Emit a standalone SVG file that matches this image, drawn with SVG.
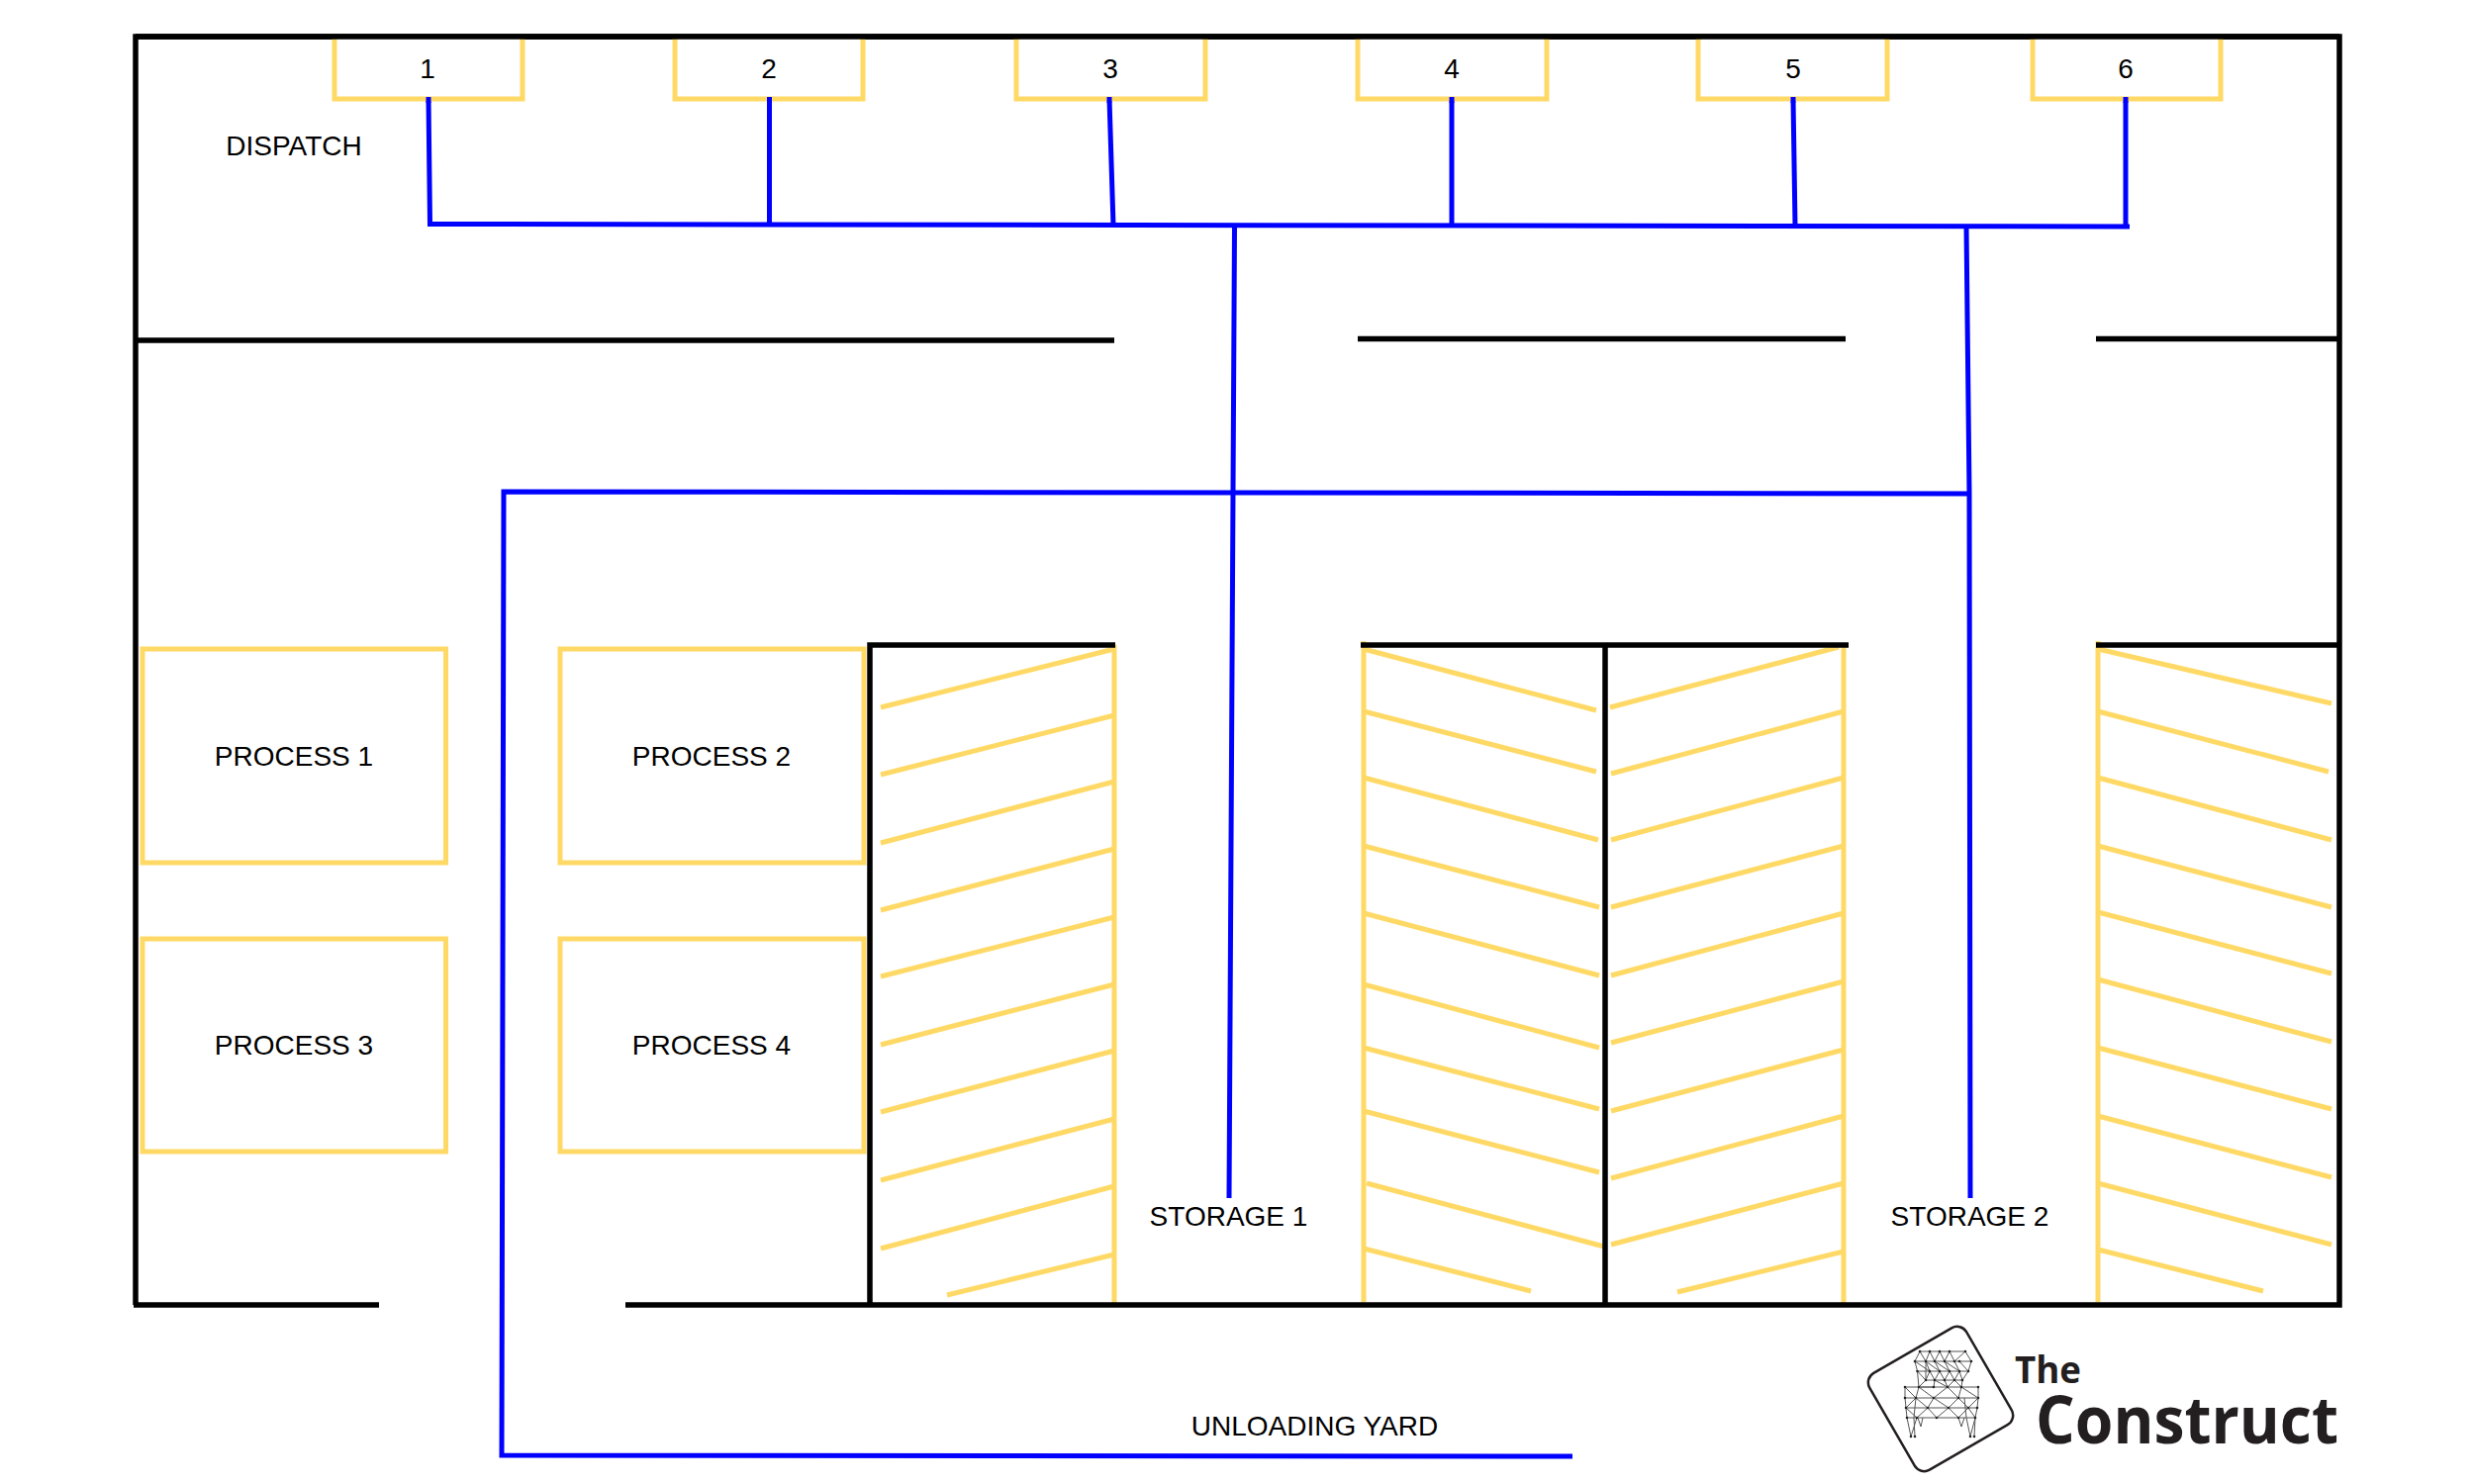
<svg xmlns="http://www.w3.org/2000/svg" width="2500" height="1500" viewBox="0 0 2500 1500">
<style>
.wall{fill:none;stroke:#000;stroke-width:5.500;stroke-linecap:butt;stroke-linejoin:miter}
.bay{fill:none;stroke:#ffd966;stroke-width:5}
.box{fill:#fff;stroke:#ffd966;stroke-width:5;stroke-linejoin:miter}
.route{fill:none;stroke:#0000ff;stroke-width:5;stroke-linejoin:miter}
text{font-family:"Liberation Sans",Arial,sans-serif;font-size:28px;fill:#000;text-anchor:middle}
.logo{font-family:"Open Sans","Noto Sans",sans-serif;font-weight:700;fill:#231f20;text-anchor:start}
.mesh{fill:none;stroke:#555;stroke-width:1}
.node{fill:none;stroke:#222;stroke-width:2.600;stroke-linecap:round}
</style>
<rect width="2500" height="1500" fill="#fff"/>
<g id="storage-bays">
<path class="bay" d="M1126 652V1319M1378 648V1316M1863 652V1319M2120 648V1316"/>
<path class="bay" d="M890 715L1126 656M890 783L1126 723M890 852L1126 790M890 920L1126 858M890 987L1126 927M890 1056L1126 995M890 1124L1126 1062M890 1193L1126 1131M890 1262L1126 1199M957 1309L1126 1268"/>
<path class="bay" d="M1378 656L1613 718M1378 719L1613 780M1378 786L1615 849M1378 855L1616 917M1378 923L1616 986M1378 995L1616 1059M1378 1059L1616 1121M1378 1123L1616 1185M1381 1196L1621 1260M1378 1262L1547 1305"/>
<path class="bay" d="M1627 715L1858 654M1628 782L1863 719M1628 849L1863 786M1628 917L1863 855M1628 986L1863 923M1628 1054L1863 992M1628 1123L1863 1061M1628 1191L1863 1128M1628 1258L1863 1196M1695 1306L1863 1265"/>
<path class="bay" d="M2120 656L2356 711M2120 719L2353 780M2120 786L2356 849M2120 855L2356 917M2120 922L2356 984M2120 990L2356 1053M2120 1059L2356 1121M2120 1128L2356 1190M2120 1196L2356 1258M2120 1263L2287 1305"/>
</g>
<g id="walls">
<path class="wall" d="M137 1319V37H2364V1319H632M137 1319H383M135 1319H383"/>
<path class="wall" d="M137 344H1126M1372 342.500H1865M2118 342.500H2364"/>
<path class="wall" d="M879 1319V652H1127M1375 652H1868M1622 652V1319M2118 652H2364"/>
</g>
<g id="connectors">
<path class="route" d="M433 100L434.500 226.500L2152 229"/>
<path class="route" d="M777.500 100V227M1121 100L1125 228M1467 100V228M1812 100L1814 229M2148 100V229"/>
<path class="route" d="M1247.500 229L1242 1211M1987 229L1990 498L1991 1211"/>
<path class="route" d="M1990 499L509 497L507 1471L1589 1472"/>
</g>
<g id="dock-1"><path class="box" d="M338 37V100H528V37"/><text x="432" y="79">1</text></g>
<g id="dock-2"><path class="box" d="M682 37V100H872V37"/><text x="777" y="79">2</text></g>
<g id="dock-3"><path class="box" d="M1027 37V100H1218V37"/><text x="1122" y="79">3</text></g>
<g id="dock-4"><path class="box" d="M1372 37V100H1563V37"/><text x="1467" y="79">4</text></g>
<g id="dock-5"><path class="box" d="M1716 37V100H1907V37"/><text x="1812" y="79">5</text></g>
<g id="dock-6"><path class="box" d="M2054 37V100H2244V37"/><text x="2148" y="79">6</text></g>
<path class="wall" d="M137 37H2364"/>
<g id="connector-tips"><path class="route" d="M433 98V104M777.500 98V104M1121 98V104M1467 98V104M1812 98V104M2148 98V104"/></g>
<g id="dispatch"><text x="297" y="156.500">DISPATCH</text></g>
<g id="process-1"><rect class="box" x="144" y="656" width="306.500" height="216"/><text x="297" y="773.500">PROCESS 1</text></g>
<g id="process-2"><rect class="box" x="566" y="656" width="307" height="216"/><text x="719" y="773.500">PROCESS 2</text></g>
<g id="process-3"><rect class="box" x="144" y="949" width="306.500" height="215"/><text x="297" y="1065.500">PROCESS 3</text></g>
<g id="process-4"><rect class="box" x="566" y="949" width="307" height="215"/><text x="719" y="1065.500">PROCESS 4</text></g>
<g id="storage-1"><text x="1241.500" y="1239">STORAGE 1</text></g>
<g id="storage-2"><text x="1990.500" y="1239">STORAGE 2</text></g>
<g id="unloading-yard"><text x="1328.500" y="1451">UNLOADING YARD</text></g>
<g id="logo">
<rect x="-56.500" y="-56.500" width="113" height="113" rx="11" transform="translate(1961 1414) rotate(-30)" fill="#fff" stroke="#231f20" stroke-width="2.500"/>
<path class="mesh" d="M1940 1366L1950 1366L1960 1366L1970 1366L1986 1366L1992 1376L1989 1386L1983 1395L1982 1402M1940 1366L1935 1376L1937.500 1386L1939 1402M1935 1376L1946 1376L1955 1376L1965 1376L1975 1376L1980 1376L1992 1376M1937.500 1386L1950 1386L1960 1386L1970 1386L1980 1386L1989 1386M1946 1395L1955 1395L1965 1395L1975 1395L1983 1395M1940 1366L1946 1376L1950 1366L1955 1376L1960 1366L1965 1376L1970 1366L1975 1376L1986 1366M1935 1376L1950 1386L1946 1376L1960 1386L1955 1376L1970 1386L1965 1376L1980 1386L1975 1376M1980 1376L1989 1386M1937.500 1386L1946 1395L1950 1386L1955 1395L1960 1386L1965 1395L1970 1386L1975 1395L1980 1386L1983 1395M1946 1376V1395L1939 1402L1954 1402L1955 1395L1968 1402L1965 1395M1968 1402L1975 1395L1982 1402"/>
<path class="mesh" d="M1925 1402L1939 1402L1954 1402L1968 1402L1982 1402L1999 1402M1925 1413L1936 1413L1954 1413L1979 1413L1999 1413M1926 1423L1948 1423L1969 1423L1989 1423L1998 1423M1927 1433L1937 1433L1957 1433L1979 1433L1996 1433M1925 1402V1413L1926 1423L1927 1433L1931 1452M1999 1402V1413L1998 1423L1996 1433L1995 1452M1925 1402L1936 1413L1939 1402L1954 1413L1968 1402L1979 1413L1982 1402L1999 1413L1989 1423L1979 1413L1969 1423L1954 1413L1948 1423L1936 1413L1926 1423L1937 1433L1948 1423L1957 1433L1969 1423L1979 1433L1989 1423L1996 1433M1936 1413L1934 1433L1935 1452M1937 1433L1931 1452M1985 1413L1987 1433L1991 1452M1996 1433L1991 1452M1938 1433L1941 1442L1943 1433M1979 1433L1982 1442L1985 1433"/>
<path class="node" d="M1940 1366h0M1950 1366h0M1960 1366h0M1970 1366h0M1986 1366h0M1935 1376h0M1946 1376h0M1955 1376h0M1965 1376h0M1975 1376h0M1980 1376h0M1992 1376h0M1937.500 1386h0M1950 1386h0M1960 1386h0M1970 1386h0M1980 1386h0M1989 1386h0M1946 1395h0M1955 1395h0M1965 1395h0M1975 1395h0M1983 1395h0M1925 1402h0M1939 1402h0M1954 1402h0M1968 1402h0M1982 1402h0M1999 1402h0M1925 1413h0M1936 1413h0M1954 1413h0M1979 1413h0M1999 1413h0M1926 1423h0M1948 1423h0M1969 1423h0M1989 1423h0M1998 1423h0M1927 1433h0M1937 1433h0M1957 1433h0M1979 1433h0M1996 1433h0M1931 1452h0M1935 1452h0M1991 1452h0M1995 1452h0"/>
<text class="logo" x="2036" y="1398" textLength="67" lengthAdjust="spacingAndGlyphs" style="font-size:38px">The</text>
<text class="logo" x="2057" y="1459" textLength="306" lengthAdjust="spacingAndGlyphs" style="font-size:66px">Construct</text>
</g>
</svg>
